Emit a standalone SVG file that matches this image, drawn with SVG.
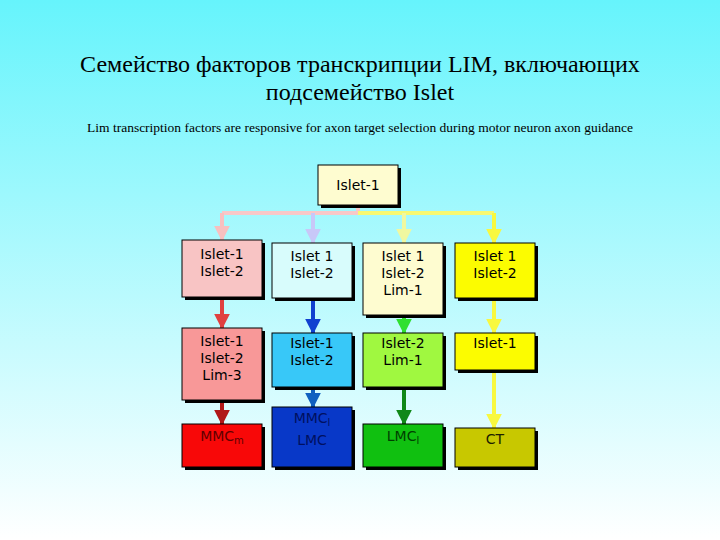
<svg xmlns="http://www.w3.org/2000/svg" width="720" height="540" viewBox="0 0 720 540">
<defs>
<linearGradient id="bg" x1="0" y1="0" x2="0" y2="1"><stop offset="0" stop-color="#66f4fc"/><stop offset="1" stop-color="#ffffff"/></linearGradient>
<marker id="ah" viewBox="0 0 10 10" refX="9" refY="5" markerWidth="4" markerHeight="4" orient="auto"><path d="M0,0L10,5L0,10z" fill="context-stroke"/></marker>
<style>
.bx{stroke:#000;stroke-width:1}
.sh{fill:#000}
.t{font-family:"DejaVu Sans",sans-serif;font-size:14px;text-anchor:middle}
.c{fill:none;stroke-width:4;marker-end:url(#ah)}
.ttl{font-family:"Liberation Serif",serif;font-size:24px;text-anchor:middle}
</style>
</defs>
<rect width="720" height="540" fill="url(#bg)"/>
<text class="ttl" x="360" y="72">Семейство факторов транскрипции LIM, включающих</text>
<text class="ttl" x="360" y="100">подсемейство  Islet</text>
<text x="360" y="132" font-family="Liberation Serif,serif" font-size="13.5" text-anchor="middle">Lim transcription factors are responsive for axon target selection during motor neuron  axon guidance</text>
<g id="connectors">
<path d="M358,205V213H222" fill="none" stroke="#f8c8c8" stroke-width="4"/>
<path d="M358,213H494" fill="none" stroke="#f8f870" stroke-width="4"/>
<path class="c" d="M222,213V240" stroke="#f8c0c0"/>
<path class="c" d="M313,213V243" stroke="#c8c8f8"/>
<path class="c" d="M404,213V243" stroke="#f0f8a0"/>
<path class="c" d="M494,213V243" stroke="#f8f840"/>
<path class="c" d="M222,298V328" stroke="#e04040"/>
<path class="c" d="M313,298V333" stroke="#1040d0"/>
<path class="c" d="M404,315V333" stroke="#30e030"/>
<path class="c" d="M494,298V333" stroke="#f8f840"/>
<path class="c" d="M222,400V424" stroke="#b01818"/>
<path class="c" d="M313,387V407" stroke="#1060c0"/>
<path class="c" d="M404,387V424" stroke="#108818"/>
<path class="c" d="M494,370V428" stroke="#f8f840"/>
</g>
<g id="n0"><rect class="sh" x="321" y="168" width="80" height="40"/><rect class="bx" x="318" y="165" width="80" height="40" fill="#fefcd0"/><text class="t" x="358" y="190">Islet-1</text></g>
<g id="n1"><rect class="sh" x="185" y="243" width="80" height="57"/><rect class="bx" x="182" y="240" width="80" height="57" fill="#f8c4c4"/><text class="t" x="222" y="259">Islet-1</text><text class="t" x="222" y="276">Islet-2</text></g>
<g id="n2"><rect class="sh" x="275" y="246" width="80" height="55"/><rect class="bx" x="272" y="243" width="80" height="55" fill="#d8fcfc"/><text class="t" x="312" y="261">Islet 1</text><text class="t" x="312" y="278">Islet-2</text></g>
<g id="n3"><rect class="sh" x="366" y="246" width="80" height="72"/><rect class="bx" x="363" y="243" width="80" height="72" fill="#fefcd0"/><text class="t" x="403" y="261">Islet 1</text><text class="t" x="403" y="278">Islet-2</text><text class="t" x="403" y="295">Lim-1</text></g>
<g id="n4"><rect class="sh" x="458" y="246" width="80" height="55"/><rect class="bx" x="455" y="243" width="80" height="55" fill="#fcfc00"/><text class="t" x="495" y="261">Islet 1</text><text class="t" x="495" y="278">Islet-2</text></g>
<g id="n5"><rect class="sh" x="185" y="331" width="80" height="72"/><rect class="bx" x="182" y="328" width="80" height="72" fill="#f89898"/><text class="t" x="222" y="346">Islet-1</text><text class="t" x="222" y="363">Islet-2</text><text class="t" x="222" y="380">Lim-3</text></g>
<g id="n6"><rect class="sh" x="275" y="336" width="80" height="54"/><rect class="bx" x="272" y="333" width="80" height="54" fill="#38c8f8"/><text class="t" x="312" y="348">Islet-1</text><text class="t" x="312" y="365">Islet-2</text></g>
<g id="n7"><rect class="sh" x="366" y="336" width="80" height="54"/><rect class="bx" x="363" y="333" width="80" height="54" fill="#a0f840"/><text class="t" x="403" y="348">Islet-2</text><text class="t" x="403" y="365">Lim-1</text></g>
<g id="n8"><rect class="sh" x="458" y="336" width="80" height="37"/><rect class="bx" x="455" y="333" width="80" height="37" fill="#fcfc00"/><text class="t" x="495" y="348">Islet-1</text></g>
<g id="n9"><rect class="sh" x="185" y="427" width="80" height="43"/><rect class="bx" x="182" y="424" width="80" height="43" fill="#f80808"/><text class="t" x="222" y="441" fill="#600000">MMC<tspan font-size="10" dy="3">m</tspan></text></g>
<g id="n10"><rect class="sh" x="275" y="410" width="80" height="60"/><rect class="bx" x="272" y="407" width="80" height="60" fill="#0838c8"/><text class="t" x="312" y="423" fill="#001060">MMC<tspan font-size="10" dy="3">l</tspan></text><text class="t" x="312" y="445" fill="#001060">LMC</text></g>
<g id="n11"><rect class="sh" x="366" y="427" width="80" height="43"/><rect class="bx" x="363" y="424" width="80" height="43" fill="#10c010"/><text class="t" x="403" y="441" fill="#004000">LMC<tspan font-size="10" dy="3">l</tspan></text></g>
<g id="n12"><rect class="sh" x="458" y="431" width="80" height="39"/><rect class="bx" x="455" y="428" width="80" height="39" fill="#c8c800"/><text class="t" x="495" y="444" fill="#202000">CT</text></g>
</svg>
